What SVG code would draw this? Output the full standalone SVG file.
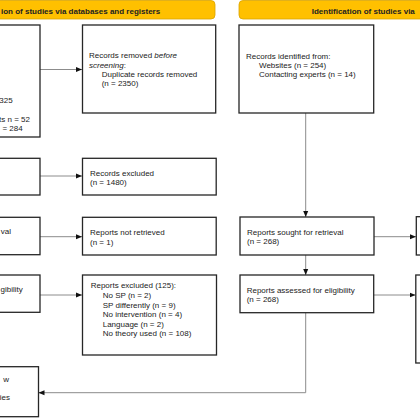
<svg xmlns="http://www.w3.org/2000/svg" width="420" height="420" viewBox="0 0 420 420">
<style>
.bn{fill:#FFC000;stroke:#D9A300;stroke-width:0.8}
.bt{font-family:"Liberation Sans",Arial,sans-serif;font-size:8px;font-weight:bold;fill:#222}
.bx{fill:#fff;stroke:#262626;stroke-width:1.3}
.t{font-family:"Liberation Sans",Arial,sans-serif;font-size:8px;fill:#222}
.c{fill:none;stroke:#8c8c8c;stroke-width:1}
</style>
<defs>
<marker id="ah" markerWidth="6" markerHeight="6" refX="6" refY="3" orient="auto" markerUnits="userSpaceOnUse">
<path d="M0,0.5 L6,3 L0,5.5 Z" fill="#111"/>
</marker>
</defs>
<rect width="420" height="420" fill="#fff"/>
<g id="banner-left">
<rect class="bn" x="-10" y="0.5" width="225" height="18.5" rx="4"/>
<text class="bt" x="1" y="13.6">ion of studies via databases and registers</text>
</g>
<g id="banner-right">
<rect class="bn" x="239" y="0.5" width="195" height="18.5" rx="4"/>
<text class="bt" x="311.7" y="13.6">Identification of studies via</text>
</g>
<g id="connectors">
<path class="c" d="M40,69.5 H82" marker-end="url(#ah)"/>
<path class="c" d="M40,176 H82" marker-end="url(#ah)"/>
<path class="c" d="M40,236.7 H82" marker-end="url(#ah)"/>
<path class="c" d="M40,295 H82" marker-end="url(#ah)"/>
<path class="c" d="M305.7,113 V217" marker-end="url(#ah)"/>
<path class="c" d="M374,236.7 H416" marker-end="url(#ah)"/>
<path class="c" d="M305.7,255 V275" marker-end="url(#ah)"/>
<path class="c" d="M374,295 H415.5" marker-end="url(#ah)"/>
<path class="c" d="M305.7,312.7 V392.7 H38.5" marker-end="url(#ah)"/>
</g>
<g id="box-a">
<rect class="bx" x="-10" y="25" width="50" height="112"/>
<text class="t" x="12.7" y="103" text-anchor="end">325</text>
<text class="t" x="30" y="122" text-anchor="end">ts n = 52</text>
<text class="t" x="22.7" y="131.2" text-anchor="end">= 284</text>
</g>
<g id="box-b">
<rect class="bx" x="82.5" y="25" width="133.2" height="88"/>
<text class="t" x="89" y="58">Records removed <tspan font-style="italic">before</tspan></text>
<text class="t" x="89" y="67.5"><tspan font-style="italic">screening</tspan>:</text>
<text class="t" x="101.7" y="77">Duplicate records removed</text>
<text class="t" x="101.7" y="86">(n = 2350)</text>
</g>
<g id="box-c">
<rect class="bx" x="239" y="25" width="134.7" height="88"/>
<text class="t" x="246" y="58.8">Records identified from:</text>
<text class="t" x="259" y="67.6">Websites (n = 254)</text>
<text class="t" x="259" y="77.3">Contacting experts (n = 14)</text>
</g>
<g id="box-screened">
<rect class="bx" x="-10" y="158.3" width="50" height="36.7"/>
</g>
<g id="box-records-excluded">
<rect class="bx" x="82.5" y="158.3" width="133.7" height="36.7"/>
<text class="t" x="90" y="175.6">Records excluded</text>
<text class="t" x="90" y="185.4">(n = 1480)</text>
</g>
<g id="box-sought-left">
<rect class="bx" x="-10" y="217.3" width="50" height="37.4"/>
<text class="t" x="11" y="233.6" text-anchor="end">val</text>
</g>
<g id="box-not-retrieved">
<rect class="bx" x="82.5" y="217.3" width="133.7" height="37.7"/>
<text class="t" x="90" y="235.2">Reports not retrieved</text>
<text class="t" x="90" y="244.6">(n = 1)</text>
</g>
<g id="box-d">
<rect class="bx" x="240" y="217" width="134" height="38"/>
<text class="t" x="247" y="234.6">Reports sought for retrieval</text>
<text class="t" x="247" y="243.8">(n = 268)</text>
</g>
<g id="box-d-right">
<rect class="bx" x="416.3" y="216.7" width="20" height="38.3"/>
</g>
<g id="box-assessed-left">
<rect class="bx" x="-10" y="275" width="50" height="37.3"/>
<text class="t" x="22.7" y="292.2" text-anchor="end">gibility</text>
</g>
<g id="box-f">
<rect class="bx" x="82.5" y="275" width="134" height="80"/>
<text class="t" x="90.7" y="288.3">Reports excluded (125):</text>
<text class="t" x="102.7" y="297.9">No SP (n = 2)</text>
<text class="t" x="102.7" y="307.5">SP differently (n = 9)</text>
<text class="t" x="102.7" y="317.1">No intervention (n = 4)</text>
<text class="t" x="102.7" y="326.7">Language (n = 2)</text>
<text class="t" x="102.7" y="336.3">No theory used (n = 108)</text>
</g>
<g id="box-e">
<rect class="bx" x="240" y="275" width="133.7" height="37.7"/>
<text class="t" x="246.7" y="292.9">Reports assessed for eligibility</text>
<text class="t" x="246.7" y="302.2">(n = 268)</text>
</g>
<g id="box-e-right">
<rect class="bx" x="415.8" y="275" width="20" height="88"/>
</g>
<g id="box-g">
<rect class="bx" x="-10" y="366.7" width="48.5" height="50"/>
<text class="t" x="9" y="382" text-anchor="end">w</text>
<text class="t" x="10" y="399.6" text-anchor="end">ies</text>
</g>
</svg>
